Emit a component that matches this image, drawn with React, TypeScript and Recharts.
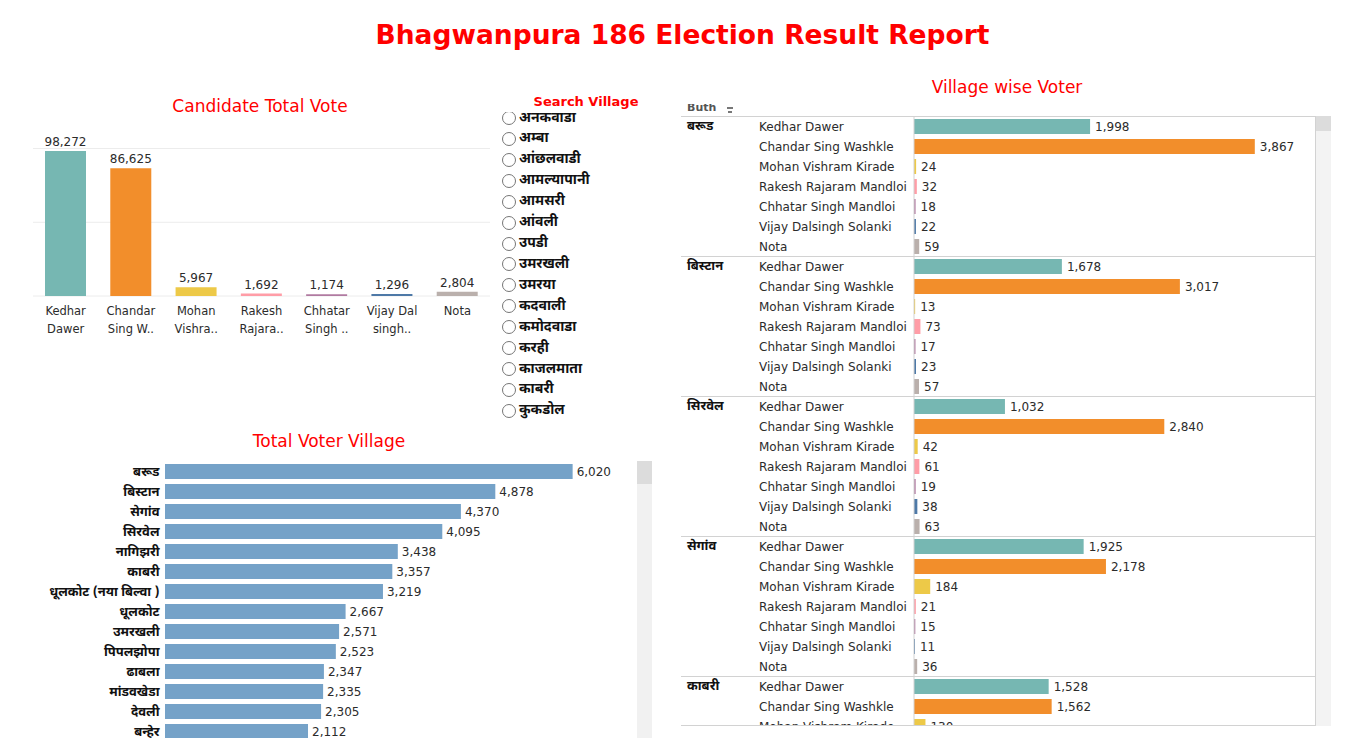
import React from 'react';
import { BarChart, Bar, XAxis, YAxis, Cell, LabelList, CartesianGrid } from 'recharts';

const FONT = '"DejaVu Sans", Verdana, sans-serif';
const DEV = '"Noto Sans Devanagari", "Noto Sans", "DejaVu Sans", sans-serif';
const RED = '#ff0000';
const TXT = '#2b2b2b';

// ---------- data ----------
const candidateNames = [
  'Kedhar Dawer',
  'Chandar Sing Washkle',
  'Mohan Vishram Kirade',
  'Rakesh Rajaram Mandloi',
  'Chhatar Singh Mandloi',
  'Vijay Dalsingh Solanki',
  'Nota',
];
const candidateTickLine1 = ['Kedhar', 'Chandar', 'Mohan', 'Rakesh', 'Chhatar', 'Vijay Dal', 'Nota'];
const candidateTickLine2 = ['Dawer', 'Sing W..', 'Vishra..', 'Rajara..', 'Singh ..', 'singh..', ''];
const candidateTotals = [98272, 86625, 5967, 1692, 1174, 1296, 2804];
const candidateColors = ['#76b7b2', '#f28e2b', '#edc948', '#ff9da7', '#b07aa1', '#4e79a7', '#bab0ac'];
const candidateGridTicks = [50000, 100000];

const searchVillages = [
  'अनकवाडा', 'अम्बा', 'आंछलवाडी', 'आमल्यापानी', 'आमसरी', 'आंवली', 'उपडी', 'उमरखली',
  'उमरया', 'कदवाली', 'कमोदवाडा', 'करही', 'काजलमाता', 'काबरी', 'कुकडोल',
];

const totalVillages = [
  'बरूड', 'बिस्टान', 'सेगांव', 'सिरवेल', 'नागिझरी', 'काबरी', 'धूलकोट (नया बिल्वा )',
  'धूलकोट', 'उमरखली', 'पिपलझोपा', 'ढाबला', 'मांडवखेडा', 'देवली', 'बन्हेर',
];
const totalVillageVotes = [6020, 4878, 4370, 4095, 3438, 3357, 3219, 2667, 2571, 2523, 2347, 2335, 2305, 2112];

const wiseVillages = ['बरूड', 'बिस्टान', 'सिरवेल', 'सेगांव', 'काबरी'];
const wiseBarud = [1998, 3867, 24, 32, 18, 22, 59];
const wiseBistan = [1678, 3017, 13, 73, 17, 23, 57];
const wiseSirvel = [1032, 2840, 42, 61, 19, 38, 63];
const wiseSegaon = [1925, 2178, 184, 21, 15, 11, 36];
const wiseKabri = [1528, 1562, 130];
const wiseValues = [wiseBarud, wiseBistan, wiseSirvel, wiseSegaon, wiseKabri];

// ---------- derived tables ----------
const fmt = (v: any) => Number(v).toLocaleString('en-US');

const candData = candidateNames.map((n, i) => ({
  name: n,
  value: candidateTotals[i],
  l1: candidateTickLine1[i],
  l2: candidateTickLine2[i],
}));

const villageData = totalVillages.map((n, i) => ({ name: n, value: totalVillageVotes[i] }));

type WRow = { key: string; village: string; cand: string; ci: number; first: boolean; value: number };
const wiseData: WRow[] = [];
wiseVillages.forEach((v, gi) => {
  wiseValues[gi].forEach((val, ci) => {
    wiseData.push({ key: v + '|' + ci, village: v, cand: candidateNames[ci], ci, first: ci === 0, value: val });
  });
});
const wiseMap: Record<string, WRow> = {};
wiseData.forEach((r) => (wiseMap[r.key] = r));

// ---------- ticks ----------
const CandTick = (props: any) => {
  const { x, y, payload } = props;
  const d = candData.find((c) => c.name === payload.value);
  return (
    <g>
      <text x={x} y={y + 11} textAnchor="middle" fontFamily={FONT} fontSize={11.5} fill={TXT}>
        {d ? d.l1 : ''}
      </text>
      <text x={x} y={y + 29} textAnchor="middle" fontFamily={FONT} fontSize={11.5} fill={TXT}>
        {d ? d.l2 : ''}
      </text>
    </g>
  );
};

const VillageTick = (props: any) => {
  const { x, y, payload } = props;
  return (
    <text x={x} y={y} dx={2.5} dy={5} textAnchor="end" fontFamily={DEV} fontWeight={700} fontSize={13} fill="#111">
      {payload.value}
    </text>
  );
};

const WiseTick = (props: any) => {
  const { y, payload } = props;
  const r = wiseMap[payload.value];
  if (!r) return null;
  return (
    <g>
      {r.first && <line x1={0} x2={634} y1={y - 10 + 0.5} y2={y - 10 + 0.5} stroke="#d2d2d2" strokeWidth={1} />}
      {r.first && (
        <text x={6} y={y} dy={4} fontFamily={DEV} fontWeight={700} fontSize={13} fill="#111">
          {r.village}
        </text>
      )}
      <text x={78} y={y} dy={4.5} fontFamily={FONT} fontSize={12} fill={TXT}>
        {r.cand}
      </text>
    </g>
  );
};

const abs = (l: number, t: number, extra: React.CSSProperties = {}): React.CSSProperties => ({
  position: 'absolute',
  left: l,
  top: t,
  ...extra,
});

export default function App() {
  return (
    <div
      style={{
        position: 'absolute',
        left: 0,
        top: 0,
        width: 1365,
        height: 738,
        overflow: 'hidden',
        background: '#fff',
        fontFamily: FONT,
      }}
    >
      {/* main title */}
      <div
        style={abs(0, 19, {
          width: 1365,
          textAlign: 'center',
          color: RED,
          fontWeight: 700,
          fontSize: 26.5,
          fontFamily: FONT,
        })}
      >
        Bhagwanpura 186 Election Result Report
      </div>

      {/* Candidate Total Vote */}
      <div style={abs(60, 96, { width: 400, textAlign: 'center', color: RED, fontSize: 17 })}>Candidate Total Vote</div>
      <div style={abs(33, 120)}>
        <BarChart width={457} height={216} data={candData} margin={{ top: 28.5, right: 0, bottom: 0, left: 0 }} barSize={41}>
          <CartesianGrid vertical={false} stroke="#ececec" />
          <XAxis dataKey="name" axisLine={false} tickLine={false} height={40} interval={0} tick={<CandTick />} />
          <YAxis hide domain={[0, 100000]} ticks={candidateGridTicks} allowDataOverflow />
          <Bar dataKey="value" isAnimationActive={false}>
            {candData.map((_, i) => (
              <Cell key={i} fill={candidateColors[i]} />
            ))}
            <LabelList
              dataKey="value"
              position="top"
              offset={5}
              formatter={fmt}
              style={{ fontFamily: FONT, fontSize: 12, fill: TXT }}
            />
          </Bar>
        </BarChart>
      </div>

      {/* Search Village */}
      <div style={abs(500, 94, { width: 172, textAlign: 'center', color: RED, fontWeight: 700, fontSize: 13 })}>
        Search Village
      </div>
      <div style={abs(498, 112, { width: 150, height: 314, overflow: 'hidden' })}>
        {searchVillages.map((v, i) => (
          <div key={v} style={abs(0, -4.5 + i * 20.92, { height: 21, width: 150, display: 'flex', alignItems: 'center' })}>
            <div
              style={{
                width: 14,
                height: 14,
                borderRadius: '50%',
                border: '1px solid #767676',
                boxSizing: 'border-box',
                marginLeft: 4,
                background: '#fff',
              }}
            />
            <span style={{ marginLeft: 3, fontFamily: DEV, fontWeight: 700, fontSize: 14, color: '#111', whiteSpace: 'nowrap' }}>
              {v}
            </span>
          </div>
        ))}
      </div>

      {/* Total Voter Village */}
      <div style={abs(129, 431, { width: 400, textAlign: 'center', color: RED, fontSize: 17 })}>Total Voter Village</div>
      <div style={abs(0, 461)}>
        <BarChart
          layout="vertical"
          width={639}
          height={280}
          data={villageData}
          margin={{ top: 0, right: 0, bottom: 0, left: 0 }}
          barSize={15}
        >
          <XAxis type="number" hide domain={[0, 7000]} allowDataOverflow />
          <YAxis type="category" dataKey="name" width={165} axisLine={false} tickLine={false} interval={0} tick={<VillageTick />} />
          <Bar dataKey="value" fill="#75a2c8" isAnimationActive={false}>
            <LabelList
              dataKey="value"
              position="right"
              offset={4}
              formatter={fmt}
              style={{ fontFamily: FONT, fontSize: 12, fill: TXT }}
            />
          </Bar>
        </BarChart>
      </div>
      <div style={abs(637, 461, { width: 15, height: 280, background: '#f1f1f1' })} />
      <div style={abs(637, 461, { width: 15, height: 23, background: '#dcdcdc' })} />

      {/* Village wise Voter */}
      <div style={abs(807, 77, { width: 400, textAlign: 'center', color: RED, fontSize: 17 })}>Village wise Voter</div>
      <div style={abs(687, 104, { width: 60, height: 11, overflow: 'hidden' })}>
        <span style={abs(0, -3, { fontFamily: FONT, fontWeight: 700, fontSize: 11, color: '#555' })}>Buth</span>
        <div style={abs(40, 3, { width: 6, height: 2, background: '#777' })} />
        <div style={abs(41, 7, { width: 4, height: 2, background: '#777' })} />
      </div>
      <div style={abs(681, 116, { width: 634, height: 610, overflow: 'hidden' })}>
        <BarChart
          layout="vertical"
          width={634}
          height={620}
          data={wiseData}
          margin={{ top: 0, right: 0, bottom: 0, left: 0 }}
          barSize={15}
        >
          <XAxis type="number" hide domain={[0, 4550]} allowDataOverflow />
          <YAxis
            type="category"
            dataKey="key"
            width={233}
            axisLine={{ stroke: '#d2d2d2' }}
            tickLine={false}
            interval={0}
            tick={<WiseTick />}
          />
          <Bar dataKey="value" isAnimationActive={false}>
            {wiseData.map((r, i) => (
              <Cell key={i} fill={candidateColors[r.ci]} />
            ))}
            <LabelList
              dataKey="value"
              position="right"
              offset={5}
              formatter={fmt}
              style={{ fontFamily: FONT, fontSize: 12, fill: TXT }}
            />
          </Bar>
        </BarChart>
      </div>
      <div style={abs(681, 725, { width: 634, height: 1, background: '#d2d2d2' })} />
      <div style={abs(1315, 116, { width: 1, height: 610, background: '#d2d2d2' })} />
      <div style={abs(1316, 116, { width: 15, height: 610, background: '#f3f3f3' })} />
      <div style={abs(1316, 116, { width: 15, height: 15, background: '#dcdcdc' })} />
    </div>
  );
}
